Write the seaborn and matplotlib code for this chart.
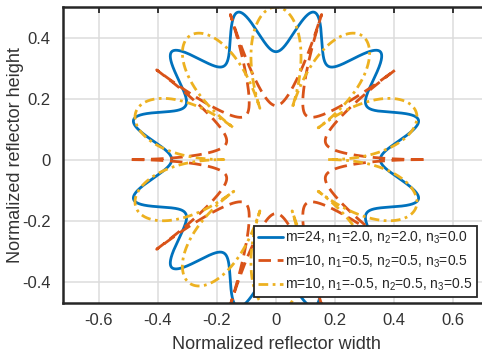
import numpy as np
import pandas as pd
import matplotlib
matplotlib.use("Agg")
import matplotlib.pyplot as plt
import seaborn as sns

# Superformula parameters, as given in the legend
m_vals = [24, 10, 10]
n1_vals = [2.0, 0.5, -0.5]
n2_vals = [2.0, 0.5, 0.5]
n3_vals = [0.0, 0.5, 0.5]
labels = [
    "m=24, n$_1$=2.0, n$_2$=2.0, n$_3$=0.0",
    "m=10, n$_1$=0.5, n$_2$=0.5, n$_3$=0.5",
    "m=10, n$_1$=-0.5, n$_2$=0.5, n$_3$=0.5",
]
colors = ["#0072BD", "#D95319", "#EDB120"]
dash_patterns = [None, (4.5, 2.4), (3.5, 1.6, 1.0, 1.6)]

x_ticks = [-0.6, -0.4, -0.2, 0, 0.2, 0.4, 0.6]
y_ticks = [-0.4, -0.2, 0, 0.2, 0.4]

sns.set_style("white")
plt.rcParams["font.family"] = ["Liberation Sans", "DejaVu Sans"]
plt.rcParams["mathtext.default"] = "regular"
plt.rcParams["axes.unicode_minus"] = False

phi = np.linspace(0, 2 * np.pi, 6001)
frames = []
for m, n1, n2, n3, lab in zip(m_vals, n1_vals, n2_vals, n3_vals, labels):
    r = (np.abs(np.cos(m * phi / 4)) ** n2 + np.abs(np.sin(m * phi / 4)) ** n3) ** (-1 / n1)
    r = r / (2 * r.max())
    frames.append(pd.DataFrame({"x": r * np.cos(phi), "y": r * np.sin(phi), "curve": lab}))
df = pd.concat(frames, ignore_index=True)

fig = plt.figure(figsize=(4.82, 3.56), dpi=100)
ax = fig.add_axes([0.1307, 0.1489, 0.8838, 0.8314])

for lab, col, dp in zip(labels, colors, dash_patterns):
    sub = df[df["curve"] == lab]
    sns.lineplot(data=sub, x="x", y="y", sort=False, estimator=None,
                 color=col, linewidth=2.0, label=lab, ax=ax)
    if dp is not None:
        ax.lines[-1].set_dashes(dp)

ax.set_xlim(-0.722, 0.722)
ax.set_ylim(-0.47, 0.5)
ax.set_xticks(x_ticks)
ax.set_yticks(y_ticks)
ax.set_xticklabels(["-0.6", "-0.4", "-0.2", "0", "0.2", "0.4", "0.6"])
ax.set_yticklabels(["-0.4", "-0.2", "0", "0.2", "0.4"])
ax.grid(True, color="#dcdcdc", linewidth=1.1)
ax.tick_params(direction="in", length=4, width=1.3, colors="#262626",
               labelsize=12, top=True, right=True, labelcolor="#333333")
ax.tick_params(axis="x", pad=7.5)
ax.tick_params(axis="y", pad=9)
for s in ax.spines.values():
    s.set_color("#262626")
    s.set_linewidth(1.8)
ax.set_xlabel("Normalized reflector width", fontsize=13, color="#333333")
ax.set_ylabel("Normalized reflector height", fontsize=13, color="#333333")
ax.xaxis.set_label_coords(0.5, -0.113)
ax.yaxis.set_label_coords(-0.092, 0.5)

leg = ax.legend(loc="lower right", bbox_to_anchor=(0.972, 0.02), borderaxespad=0,
                fontsize=10, handlelength=1.8, handletextpad=0.15,
                fancybox=False, framealpha=1, edgecolor="#262626",
                labelspacing=0.5, borderpad=0.3)
leg.get_frame().set_linewidth(1.3)

fig.savefig("out.png", dpi=100)
